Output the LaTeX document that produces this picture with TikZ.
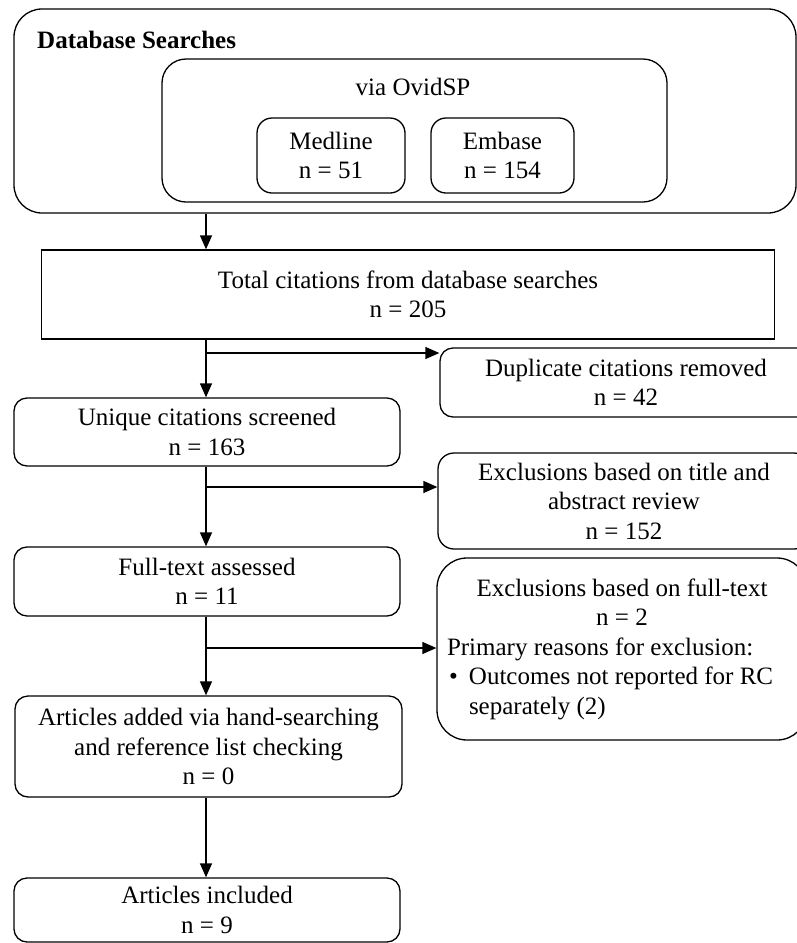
\documentclass[tikz,border=0pt]{standalone}
\usepackage{fontspec}
\setmainfont{Liberation Serif}
\usetikzlibrary{positioning,arrows.meta}

\tikzset{
  box/.style={draw, line width=1.3pt, align=center, inner sep=0pt,
    font=\fontsize{25}{29.5}\selectfont, execute at begin node={\rule{0pt}{23pt}}},
  rbox/.style={box, rounded corners=13pt},
  txt/.style={inner sep=0pt, font=\fontsize{25}{29.5}\selectfont},
  arr/.style={line width=1.3pt, -{Triangle[length=14pt,width=12pt]}}
}

\begin{document}
\begin{tikzpicture}[x=1pt,y=-1pt]
\useasboundingbox (0,0) rectangle (797,943);

% database searches
\node[rbox, rounded corners=28pt, minimum width=782pt, minimum height=204pt] (db) at (405,111) {};
\node[txt, anchor=base west, font=\fontsize{25}{29.5}\selectfont\bfseries] (dbtitle) at (37,48) {Database Searches};
\node[rbox, rounded corners=24pt, minimum width=505pt, minimum height=143pt] (ovid) at (414.5,130.5) {};
\node[txt, anchor=base] (ovidlbl) at (413,95) {via OvidSP};
\node[rbox, rounded corners=15pt, minimum width=148pt, minimum height=75pt] (medline) at (331,155.5) {Medline\\n = 51};
\node[rbox, rounded corners=15pt, minimum width=143pt, minimum height=75pt] (embase) at (502.5,155.5) {Embase\\n = 154};

% main column
\node[box, minimum width=733pt, minimum height=89pt] (total) at (408,294.5) {Total citations from database searches\\n = 205};
\node[rbox, minimum width=386pt, minimum height=68pt] (unique) at (207,432) {Unique citations screened\\n = 163};
\node[rbox, minimum width=386pt, minimum height=69pt] (fulltext) at (207,581.5) {Full-text assessed\\n = 11};
\node[rbox, minimum width=387pt, minimum height=101pt] (added) at (208.5,746.5) {Articles added via hand-searching\\and reference list checking\\n = 0};
\node[rbox, minimum width=386pt, minimum height=64pt] (included) at (207,910) {Articles included\\n = 9};

% exclusions (cut by the right edge)
\node[rbox, minimum width=372pt, minimum height=69pt] (dup) at (626,382.5) {Duplicate citations removed\\n = 42};
\node[rbox, rounded corners=16pt, minimum width=372pt, minimum height=96pt] (extitle) at (624,501) {Exclusions based on title and\\abstract review\\n = 152};
\node[rbox, rounded corners=30pt, minimum width=370pt, minimum height=182pt] (exft) at (622,649)
  {\parbox{350pt}{\centering Exclusions based on full-text\\ n = 2\par
   \raggedright Primary reasons for exclusion:\par
   \hangindent=22pt\hangafter=1\makebox[22pt][l]{\hspace{2pt}\textbullet}Outcomes not reported for RC\newline separately (2)}};

\coordinate (spine) at (206,0);
\coordinate (b1) at (206,353);
\coordinate (b2) at (206,487);
\coordinate (b3) at (206,648);

\draw[arr] (spine |- db.south) -- (spine |- total.north);
\draw[arr] (spine |- total.south) -- (spine |- unique.north);
\draw[arr] (spine |- unique.south) -- (spine |- fulltext.north);
\draw[arr] (spine |- fulltext.south) -- (spine |- added.north);
\draw[arr] (spine |- added.south) -- (spine |- included.north);

\draw[arr] (b1) -- (b1 -| dup.west);
\draw[arr] (b2) -- (b2 -| extitle.west);
\draw[arr] (b3) -- (b3 -| exft.west);

\end{tikzpicture}
\end{document}
